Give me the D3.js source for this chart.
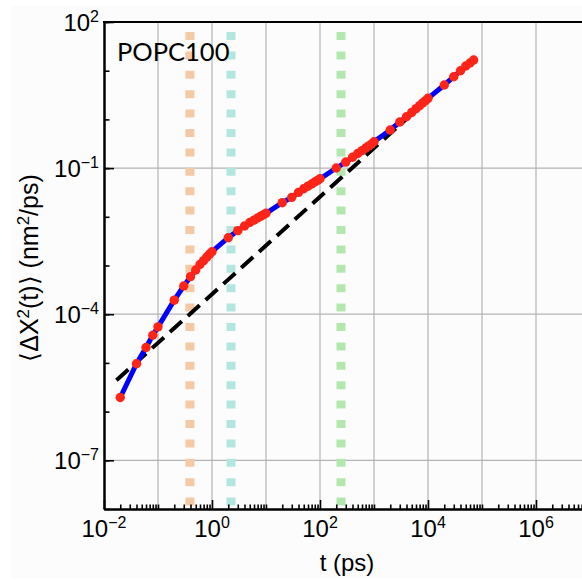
<!DOCTYPE html>
<html lang="en">
<head>
  <meta charset="UTF-8">
  <title>POPC100 MSD</title>
  <script src="https://d3js.org/d3.v7.min.js"></script>
  <style>
    body {
      margin: 0;
      overflow: hidden;
      background: #ffffff;
    }
    svg text {
      font-family: "Liberation Sans", Arial, sans-serif;
      fill: #000;
    }
    .grid line {
      stroke: #b4b4b4;
      stroke-width: 1.2;
    }
  </style>
</head>
<body>
  <svg width="582" height="580"></svg>

  <script>
    // time lags (ps) and MSD values (nm^2/ps)
    const times = [0.02, 0.04, 0.06, 0.08, 0.1, 0.2, 0.3, 0.4, 0.5, 0.6, 0.7, 0.8, 0.9, 1,
      2, 3, 4, 5, 6, 7, 8, 9, 10, 20, 30, 40, 50, 60, 70, 80, 90, 100,
      200, 300, 400, 500, 600, 700, 800, 900, 1000,
      2000, 3000, 4000, 5000, 6000, 7000, 8000, 9000, 10000,
      20000, 30000, 40000, 50000, 60000, 70000];
    const msd = [1.95e-6, 9.6e-6, 2.07e-5, 3.69e-5, 5.5e-5, 1.94e-4, 3.79e-4, 5.9e-4, 8.1e-4, 1.05e-3, 1.26e-3, 1.49e-3, 1.71e-3, 1.92e-3,
      3.72e-3, 5.19e-3, 6.47e-3, 7.64e-3, 8.55e-3, 9.45e-3, 1.03e-2, 1.10e-2, 1.18e-2, 1.95e-2, 2.51e-2, 3.18e-2, 3.76e-2, 4.25e-2, 4.72e-2, 5.19e-2, 5.59e-2, 6.03e-2,
      0.1005, 0.133, 0.167, 0.199, 0.229, 0.258, 0.286, 0.313, 0.348,
      0.605, 0.885, 1.135, 1.39, 1.66, 1.92, 2.18, 2.43, 2.71,
      5.08, 7.53, 10.0, 12.5, 14.4, 16.6];

    // linear (slope 1) reference line endpoints
    const fitT = [0.017, 25000];
    const fitY = [4.4e-6, 6.4];

    // vertical marker times
    const markerT = [0.39, 2.25, 245];
    const markerColors = ["#f3c9a6", "#b4e6e0", "#b4e7b0"];

    const xLabelExp = [-2, 0, 2, 4, 6];
    const yLabelExp = [2, -1, -4, -7];

    const svg = d3.select("svg");

    svg.append("rect")
      .attr("x", 11).attr("y", 6)
      .attr("width", 571).attr("height", 572)
      .attr("fill", "#fcfcfc");

    const x = d3.scaleLog().domain([1e-2, 1e7]).range([104, 590]);
    const y = d3.scaleLog().domain([1e-8, 1e2]).range([509, 22]);

    const decadesX = d3.range(-2, 8).map(e => Math.pow(10, e));
    const minorX = [];
    d3.range(-2, 7).forEach(e => {
      for (let k = 2; k <= 9; k++) minorX.push(k * Math.pow(10, e));
    });
    const decadesY = d3.range(-8, 3).map(e => Math.pow(10, e));

    // grid
    svg.append("g").attr("class", "grid")
      .selectAll("line")
      .data(decadesX.slice(1))
      .join("line")
      .attr("x1", d => x(d)).attr("x2", d => x(d))
      .attr("y1", y(1e2)).attr("y2", y(1e-8));

    svg.append("g").attr("class", "grid")
      .selectAll("line")
      .data(yLabelExp.slice(1).map(e => Math.pow(10, e)))
      .join("line")
      .attr("x1", x(1e-2)).attr("x2", 582)
      .attr("y1", d => y(d)).attr("y2", d => y(d));

    // dotted vertical markers
    svg.append("g")
      .selectAll("line")
      .data(markerT)
      .join("line")
      .attr("x1", d => x(d)).attr("x2", d => x(d))
      .attr("y1", 32).attr("y2", y(1e-8))
      .attr("stroke", (d, i) => markerColors[i])
      .attr("stroke-width", 9)
      .attr("stroke-dasharray", "8 11.4");

    // dashed fit line
    svg.append("line")
      .attr("x1", x(fitT[0])).attr("y1", y(fitY[0]))
      .attr("x2", x(fitT[1])).attr("y2", y(fitY[1]))
      .attr("stroke", "#000")
      .attr("stroke-width", 4)
      .attr("stroke-dasharray", "16 8");

    const pts = times.map((t, i) => [t, msd[i]]);

    svg.append("path")
      .datum(pts)
      .attr("fill", "none")
      .attr("stroke", "#0000ff")
      .attr("stroke-width", 5)
      .attr("d", d3.line().x(d => x(d[0])).y(d => y(d[1])));

    svg.append("g")
      .selectAll("circle")
      .data(pts)
      .join("circle")
      .attr("cx", d => x(d[0]))
      .attr("cy", d => y(d[1]))
      .attr("r", 4.7)
      .attr("fill", "#ff2418");

    // axes
    function styleAxis(g) {
      g.select(".domain").attr("stroke-width", 2);
      g.selectAll(".tick line").attr("stroke-width", 1.6);
    }

    const xAxisG = svg.append("g").attr("transform", `translate(0,${y(1e-8)})`);
    xAxisG.append("g")
      .call(d3.axisBottom(x).tickValues(minorX.concat([0.1, 10, 1000, 1e5])).tickSize(-4.5).tickSizeOuter(0).tickFormat(""))
      .call(styleAxis);
    xAxisG.append("g")
      .call(d3.axisBottom(x).tickValues(xLabelExp.map(e => Math.pow(10, e))).tickSize(-9).tickSizeOuter(0).tickFormat(""))
      .call(styleAxis);

    const yAxisG = svg.append("g").attr("transform", `translate(${x(1e-2)},0)`);
    yAxisG.append("g")
      .call(d3.axisLeft(y).tickValues(decadesY).tickSize(-5.5).tickSizeOuter(0).tickFormat(""))
      .call(styleAxis);
    yAxisG.append("g")
      .call(d3.axisLeft(y).tickValues(yLabelExp.map(e => Math.pow(10, e))).tickSize(-10).tickSizeOuter(0).tickFormat(""))
      .call(styleAxis);

    // top border
    svg.append("line")
      .attr("x1", x(1e-2) - 1).attr("x2", 582)
      .attr("y1", y(1e2)).attr("y2", y(1e2))
      .attr("stroke", "#000").attr("stroke-width", 2);

    const fmtExp = e => (e < 0 ? "\u2212" + (-e) : String(e));

    function powerLabel(sel) {
      sel.append("tspan").text("10");
      sel.append("tspan")
        .attr("dy", -9)
        .attr("font-size", 16)
        .text(d => fmtExp(d));
    }

    svg.append("g")
      .selectAll("text")
      .data(xLabelExp)
      .join("text")
      .attr("x", d => x(Math.pow(10, d)))
      .attr("y", 537)
      .attr("text-anchor", "middle")
      .attr("font-size", 24)
      .call(powerLabel);

    svg.append("g")
      .selectAll("text")
      .data(yLabelExp)
      .join("text")
      .attr("x", 99)
      .attr("y", d => y(Math.pow(10, d)) + 9)
      .attr("text-anchor", "end")
      .attr("font-size", 24)
      .call(powerLabel);

    // titles
    svg.append("text")
      .attr("x", 347).attr("y", 571)
      .attr("text-anchor", "middle")
      .attr("font-size", 24)
      .text("t (ps)");

    const yTitle = svg.append("text")
      .attr("transform", "translate(38,268) rotate(-90)")
      .attr("text-anchor", "middle")
      .attr("font-size", 25);
    yTitle.append("tspan").text("\u27e8\u0394X");
    yTitle.append("tspan").attr("dy", -9).attr("font-size", 17).text("2");
    yTitle.append("tspan").attr("dy", 9).text("(t)\u27e9 (nm");
    yTitle.append("tspan").attr("dy", -9).attr("font-size", 17).text("2");
    yTitle.append("tspan").attr("dy", 9).text("/ps)");

    svg.append("text")
      .attr("x", 117).attr("y", 61)
      .attr("font-size", 25.5)
      .style("font-family", "Lato, 'Open Sans', sans-serif")
      .text("POPC100");
  </script>
</body>
</html>
